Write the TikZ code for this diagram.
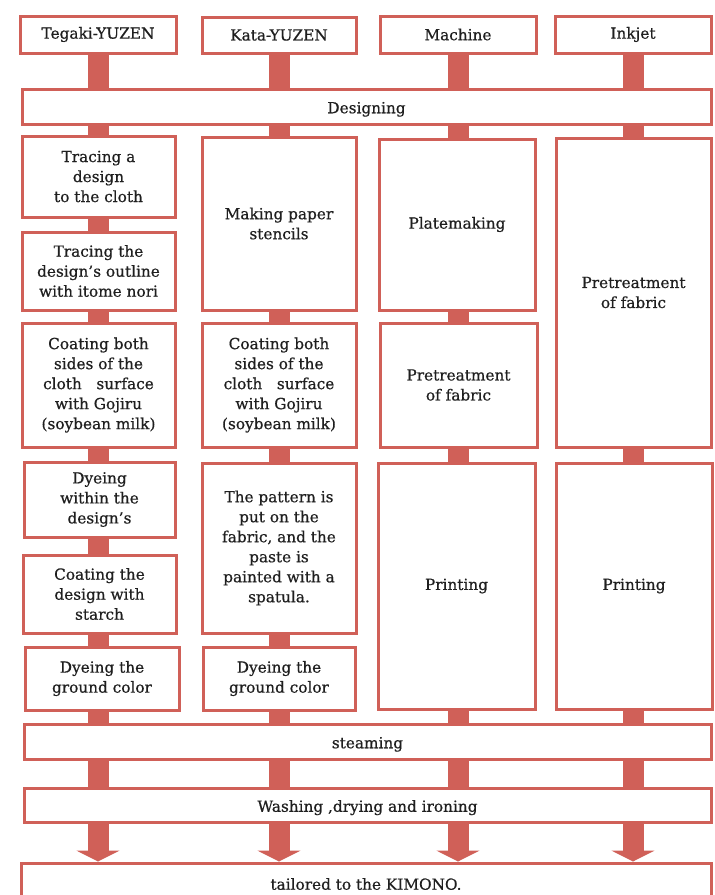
\documentclass[tikz,border=0pt]{standalone}
\usepackage{fontspec}
\setmainfont{DejaVu Serif}[FakeBold=0.6]
\usetikzlibrary{backgrounds,arrows.meta}
\definecolor{kred}{RGB}{208,96,88}
\newcommand\kbox[7][]{\node[box,minimum width={(#5-#3)*1bp},minimum height={(#6-#4)*1bp},#1] (#2) at ({(#3+#5)/2},{(#4+#6)/2}) {#7};}
\begin{document}
\begin{tikzpicture}[x=1bp,y=-1bp,
  box/.style={draw=kred, line width=3bp, fill=white, align=center, inner sep=0pt,
              font=\fontsize{15.3bp}{20bp}\selectfont, text=black!88},
  low/.style={text height=17bp, text depth=3.5bp},
  bar/.style={draw=kred, line width=21bp},
  arr/.style={draw=kred, line width=21bp, -{Triangle[width=43bp,length=11bp,fill=kred]}}]
\useasboundingbox (0,0) rectangle (715,895);
\clip (0,0) rectangle (715,895);
% top row
\kbox{teg}{20}{16}{176}{53}{Tegaki-YUZEN}
\kbox{kat}{202}{17}{356}{53}{Kata-YUZEN}
\kbox{mac}{380}{16}{536}{53}{Machine}
\kbox{ink}{555}{16}{711}{53}{Inkjet}
% designing
\kbox[low]{des}{22}{89}{711}{124}{Designing}
% column 1
\kbox{t1a}{22}{136}{175}{217}{Tracing a\\design\\to the cloth}
\kbox{t1b}{22}{232}{175}{310}{Tracing the\\design's outline\\with itome nori}
\kbox{t1c}{22}{323}{175}{447}{Coating both\\sides of the\\cloth\ \ \ surface\\with Gojiru\\(soybean milk)}
\kbox{t1d}{24}{462}{175}{537}{Dyeing\\within the\\design's}
\kbox{t1e}{23}{555}{176}{633}{Coating the\\design with\\starch}
\kbox{t1f}{25}{647}{179}{710}{Dyeing the\\ground color}
% column 2
\kbox{k2a}{202}{137}{356}{310}{Making paper\\stencils}
\kbox{k2c}{202}{323}{356}{447}{Coating both\\sides of the\\cloth\ \ \ surface\\with Gojiru\\(soybean milk)}
\kbox{k2d}{202}{463}{356}{633}{The pattern is\\put on the\\fabric, and the\\paste is\\painted with a\\spatula.}
\kbox{k2f}{203}{647}{355}{710}{Dyeing the\\ground color}
% column 3
\kbox{m3a}{379}{139}{535}{310}{Platemaking}
\kbox{m3b}{380}{323}{537}{447}{Pretreatment\\of fabric}
\kbox{m3c}{378}{463}{535}{709}{Printing}
% column 4
\kbox{i4a}{556}{138}{711}{447}{Pretreatment\\of fabric}
\kbox{i4b}{556}{463}{712}{709}{Printing}
% wide bottom boxes
\kbox[low]{stm}{24}{724}{711}{759}{steaming}
\kbox[low]{wsh}{24}{788}{711}{822}{Washing ,drying and ironing}
\kbox{tlr}{21}{863}{711}{905}{tailored to the KIMONO.}
% connectors
\begin{pgfonlayer}{background}
\draw[bar] (teg) -- (teg |- des) -- (teg |- t1a) -- (teg |- t1b) -- (teg |- t1c) -- (teg |- t1d) -- (teg |- t1e) -- (teg |- t1f) -- (teg |- stm) -- (teg |- wsh);
\draw[bar] (kat) -- (kat |- des) -- (kat |- k2a) -- (kat |- k2c) -- (kat |- k2d) -- (kat |- k2f) -- (kat |- stm) -- (kat |- wsh);
\draw[bar] (mac) -- (mac |- des) -- (mac |- m3a) -- (mac |- m3b) -- (mac |- m3c) -- (mac |- stm) -- (mac |- wsh);
\draw[bar] (ink) -- (ink |- des) -- (ink |- i4a) -- (ink |- i4b) -- (ink |- stm) -- (ink |- wsh);
\draw[arr] (teg |- wsh.south) -- (teg |- tlr.north);
\draw[arr] (kat |- wsh.south) -- (kat |- tlr.north);
\draw[arr] (mac |- wsh.south) -- (mac |- tlr.north);
\draw[arr] (ink |- wsh.south) -- (ink |- tlr.north);
\end{pgfonlayer}
\end{tikzpicture}
\end{document}
